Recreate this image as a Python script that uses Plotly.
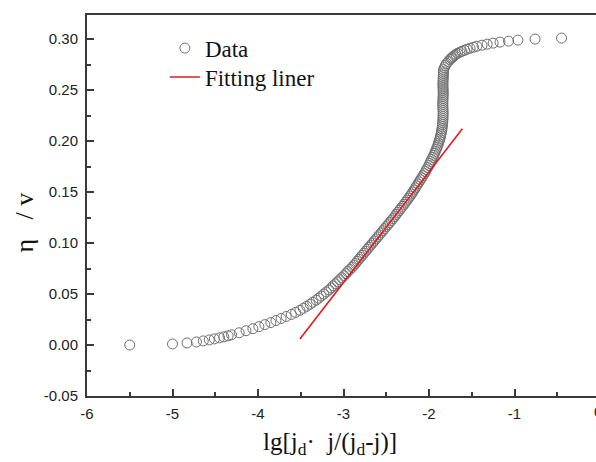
import plotly.graph_objects as go

# Data (eta / V vs lg[jd*j/(jd-j)])
eta = [
    0.000, 0.001, 0.002, 0.003, 0.004, 0.005, 0.006, 0.007, 0.008, 0.009, 0.010,
    0.012, 0.014, 0.016, 0.018, 0.020, 0.022, 0.024, 0.026, 0.028, 0.030, 0.032, 0.034,
    0.036, 0.038, 0.040, 0.042, 0.044, 0.046, 0.048, 0.050, 0.052, 0.054, 0.056, 0.058,
    0.060, 0.062, 0.064, 0.066, 0.068, 0.070, 0.072, 0.074, 0.076, 0.078, 0.080, 0.082,
    0.084, 0.086, 0.088, 0.090, 0.092, 0.094, 0.096, 0.098, 0.100, 0.102, 0.104, 0.106,
    0.108, 0.110, 0.112, 0.114, 0.116, 0.118, 0.120, 0.122, 0.124, 0.126, 0.128, 0.130,
    0.132, 0.134, 0.136, 0.138, 0.140, 0.142, 0.144, 0.146, 0.148, 0.150, 0.152, 0.154,
    0.156, 0.158, 0.160, 0.162, 0.164, 0.166, 0.168, 0.170, 0.172, 0.174, 0.176, 0.178,
    0.180, 0.182, 0.184, 0.186, 0.188, 0.190, 0.192, 0.194, 0.196, 0.198, 0.200, 0.202,
    0.204, 0.206, 0.208, 0.210, 0.212, 0.214, 0.216, 0.218, 0.220, 0.222, 0.224, 0.226,
    0.228, 0.230, 0.232, 0.234, 0.236, 0.238, 0.240, 0.242, 0.244, 0.246, 0.248, 0.250,
    0.252, 0.254, 0.256, 0.258, 0.260, 0.262, 0.264, 0.266, 0.268, 0.270, 0.272, 0.274,
    0.276, 0.278, 0.280, 0.281, 0.282, 0.283, 0.284, 0.285, 0.286, 0.287, 0.288, 0.289,
    0.290, 0.291, 0.292, 0.293, 0.294, 0.295, 0.296, 0.297, 0.298, 0.299, 0.300, 0.301,
]
lgj = [
    -5.50, -5.00, -4.83, -4.72, -4.64, -4.57, -4.51, -4.45, -4.40, -4.35, -4.31,
    -4.22, -4.14, -4.06, -3.99, -3.92, -3.85, -3.79, -3.73, -3.67, -3.61, -3.56, -3.51,
    -3.47, -3.43, -3.39, -3.36, -3.32, -3.29, -3.26, -3.23, -3.20, -3.17, -3.145, -3.12,
    -3.095, -3.07, -3.045, -3.02, -2.995, -2.97, -2.95, -2.925, -2.90, -2.88, -2.86, -2.84,
    -2.82, -2.80, -2.78, -2.76, -2.74, -2.72, -2.70, -2.68, -2.66, -2.64, -2.62, -2.60,
    -2.58, -2.56, -2.54, -2.52, -2.50, -2.48, -2.46, -2.44, -2.42, -2.40, -2.385, -2.365,
    -2.345, -2.33, -2.31, -2.29, -2.275, -2.255, -2.24, -2.22, -2.205, -2.19, -2.175, -2.16,
    -2.145, -2.13, -2.115, -2.10, -2.085, -2.07, -2.055, -2.04, -2.03, -2.015, -2.00, -1.99,
    -1.98, -1.97, -1.955, -1.945, -1.935, -1.925, -1.915, -1.905, -1.895, -1.89, -1.88, -1.873,
    -1.867, -1.862, -1.857, -1.852, -1.848, -1.845, -1.842, -1.840, -1.838, -1.837, -1.836, -1.835,
    -1.835, -1.836, -1.837, -1.838, -1.838, -1.838, -1.837, -1.836, -1.835, -1.834, -1.834, -1.835,
    -1.836, -1.837, -1.837, -1.836, -1.835, -1.834, -1.833, -1.832, -1.831, -1.830, -1.820, -1.810,
    -1.795, -1.775, -1.755, -1.740, -1.730, -1.715, -1.700, -1.685, -1.665, -1.640, -1.615, -1.585,
    -1.555, -1.52, -1.48, -1.44, -1.38, -1.32, -1.25, -1.17, -1.07, -0.96, -0.76, -0.45,
]

fit_x = [-3.51, -1.61]
fit_y = [0.006, 0.212]

x_ticks = [-6, -5, -4, -3, -2, -1]
y_ticks = [-0.05, 0.00, 0.05, 0.10, 0.15, 0.20, 0.25, 0.30]

axis_color = "#3a3a3a"
tick_font = dict(family="Liberation Sans, Arial", size=15, color="#222222")
serif = "Liberation Serif, Times New Roman, serif"

fig = go.Figure()
fig.add_trace(go.Scatter(
    x=lgj, y=eta, mode="markers", name="Data", legend="legend",
    marker=dict(symbol="circle-open", size=10, color="#707070", line=dict(width=1, color="#707070")),
))
fig.add_trace(go.Scatter(
    x=fit_x, y=fit_y, mode="lines", name="Fitting liner", legend="legend2",
    line=dict(color="#e31a1c", width=1.6),
))

legend_font = dict(family=serif, size=23, color="#111111")
fig.update_layout(
    width=596, height=462,
    margin=dict(l=87, r=0, t=15, b=66),
    paper_bgcolor="white", plot_bgcolor="white",
    showlegend=True,
    legend=dict(x=0.153, y=0.913, xanchor="left", yanchor="middle",
                font=legend_font, bgcolor="rgba(0,0,0,0)"),
    legend2=dict(x=0.153, y=0.837, xanchor="left", yanchor="middle",
                 font=legend_font, bgcolor="rgba(0,0,0,0)"),
    xaxis=dict(
        range=[-6, -0.047], tickvals=x_ticks, ticktext=[str(v) for v in x_ticks],
        showgrid=False, zeroline=False,
        showline=True, linecolor=axis_color, linewidth=2, mirror=True,
        ticks="inside", ticklen=7, tickwidth=1.5, tickcolor=axis_color,
        minor=dict(ticks="inside", ticklen=4, tickwidth=1.5, tickcolor=axis_color, dtick=0.5, tick0=-6),
        tickfont=tick_font, ticklabelstandoff=3,
    ),
    yaxis=dict(
        range=[-0.05, 0.3236], tickvals=y_ticks, ticktext=[f"{v:.2f}" for v in y_ticks],
        showgrid=False, zeroline=False,
        showline=True, linecolor=axis_color, linewidth=2, mirror=False,
        ticks="inside", ticklen=7, tickwidth=1.5, tickcolor=axis_color,
        minor=dict(ticks="inside", ticklen=4, tickwidth=1.5, tickcolor=axis_color, dtick=0.025, tick0=-0.05),
        tickfont=tick_font, ticklabelstandoff=4,
    ),
    annotations=[
        dict(text="lg[j<sub>d</sub>·  j/(j<sub>d</sub>-j)]", xref="paper", yref="paper",
             x=0.478, y=-0.08, xanchor="center", yanchor="top", showarrow=False,
             font=dict(family=serif, size=25, color="#111111")),
        dict(text="η   / v", xref="paper", yref="paper", x=-0.122, y=0.455,
             xanchor="center", yanchor="middle", textangle=-90, showarrow=False,
             font=dict(family=serif, size=26, color="#111111")),
        dict(text="0", xref="paper", yref="paper", x=1.0, y=-0.012, xanchor="left", yanchor="top",
             xshift=-4, showarrow=False, font=tick_font),
    ],
)

fig.write_html("out.html", config={"displayModeBar": False},
               post_script="document.body.style.margin='0px';")
